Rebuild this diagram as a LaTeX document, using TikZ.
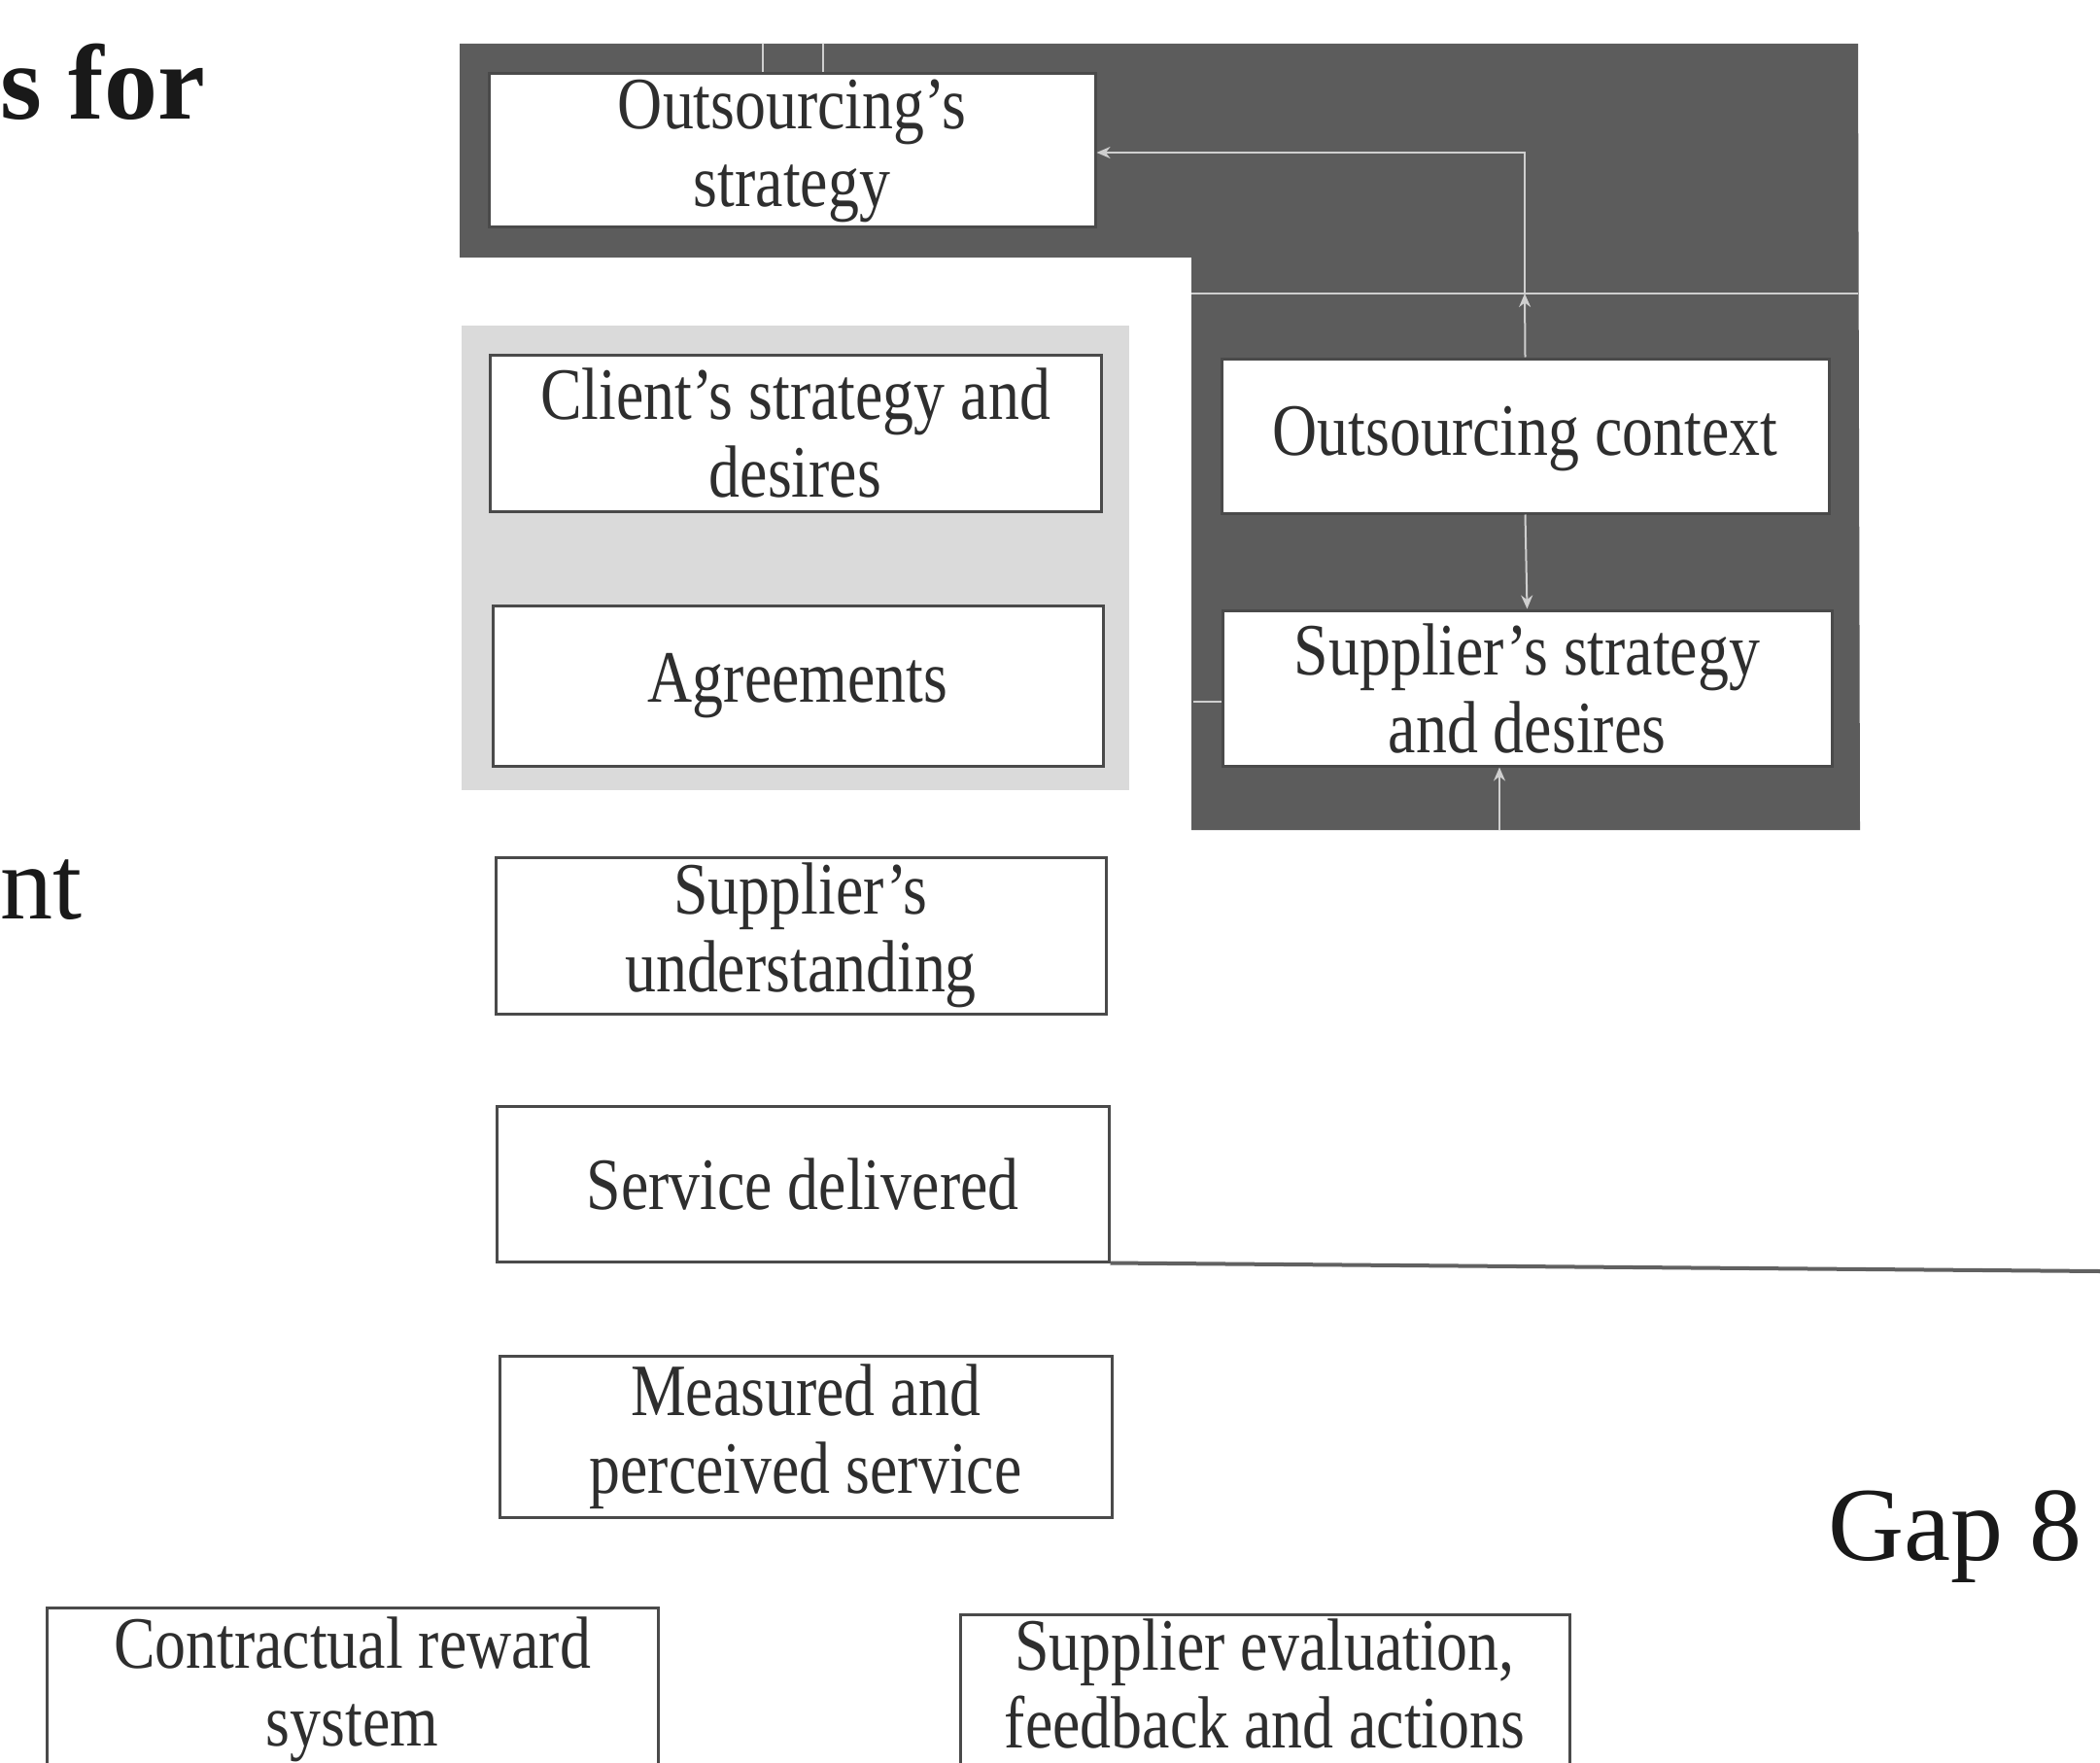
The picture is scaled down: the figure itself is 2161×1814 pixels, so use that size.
\documentclass[tikz,border=0pt]{standalone}
\usepackage{fontspec}
\setmainfont{Liberation Serif}
\newfontfamily\boxfam[FakeStretch=0.84]{Liberation Serif}
\usetikzlibrary{arrows.meta}
\definecolor{darkreg}{HTML}{5C5C5C}
\definecolor{lightreg}{HTML}{DADADA}
\definecolor{boxline}{HTML}{4A4A4A}
\definecolor{txt}{HTML}{2E2E2E}
\definecolor{wline}{HTML}{CFCFCF}
\newcommand\myboxfont{\boxfam\fontsize{76}{80}\selectfont}
\begin{document}
\begin{tikzpicture}[x=1pt,y=-1pt,
  box/.style={draw=boxline, line width=3pt, fill=white, align=center, font=\myboxfont, text=txt, inner sep=0pt},
  wconn/.style={draw=wline, line width=2pt},
  warrow/.style={wconn, -{Stealth[length=14pt,width=12pt]}},
  bigtext/.style={anchor=base west, inner sep=0pt, text=black!90}]

\fill[white] (0,0) rectangle (2161,1814);
\useasboundingbox (0,0) rectangle (2161,1814);

% shaded regions
\fill[darkreg] (473,45) -- (1912,45) -- (1914,854) -- (1226,854) -- (1226,265) -- (473,265) -- cycle;
\fill[lightreg] (475,335) rectangle (1162,813);

% boxes
\node[box, minimum width=624, minimum height=158] (os) at (815,155) {Outsourcing’s\\strategy};
\node[box, minimum width=629, minimum height=161] (cs) at (818.5,445.5) {Client’s strategy and\\desires};
\node[box, minimum width=628, minimum height=165] (ag) at (821,705.5) {Agreements};
\node[box, minimum width=625, minimum height=159, text depth=10] (oc) at (1569.5,448.5) {Outsourcing context};
\node[box, minimum width=627, minimum height=160] (ss) at (1571.5,708) {Supplier’s strategy\\and desires};
\node[box, minimum width=628, minimum height=161] (su) at (824,962.5) {Supplier’s\\understanding};
\node[box, minimum width=630, minimum height=160] (sd) at (826,1218) {Service delivered};
\node[box, minimum width=630, minimum height=166] (mp) at (829,1478) {Measured and\\perceived service};
\node[box, minimum width=629, minimum height=182, text depth=30] (cr) at (362.5,1745) {Contractual reward\\system};
\node[box, minimum width=627, minimum height=182, text depth=40] (se) at (1301.5,1752) {Supplier evaluation,\\feedback and actions};

% large texts
\node[bigtext, font=\fontsize{110}{110}\selectfont\bfseries] (tfor) at (0,123) {s for};
\node[bigtext, font=\fontsize{108}{108}\selectfont] (tnt) at (0,945) {nt};
\node[bigtext, font=\fontsize{108}{108}\selectfont] (gap) at (1881,1605) {Gap 8};

% long gray line from service delivered
\coordinate (gapend) at (2161,1308);
\draw[draw=black!62, line width=4pt] (sd.south east) -- (gapend);

% white connectors inside the dark region
\coordinate (c1) at (1569,157);
\coordinate (c2) at (1569,302);
\coordinate (h1) at (1226,302);
\coordinate (h2) at (1912,302);
\draw[wconn] (h1) -- (h2);
\draw[warrow] (oc.north) -- (c2);
\draw[warrow] (c2) -- (c1) -- (os.east |- c1);
\draw[warrow] (oc.south) -- (ss.north);
\coordinate (b1) at (1543,854);
\draw[warrow] (b1) -- (b1 |- ss.south);
\coordinate (ta) at (785,45);
\coordinate (tb) at (847,45);
\draw[wconn] (ta) -- (ta |- os.north);
\draw[wconn] (tb) -- (tb |- os.north);
\coordinate (l1) at (1228,722);
\draw[wconn] (l1) -- (l1 -| ss.west);
\end{tikzpicture}
\end{document}
